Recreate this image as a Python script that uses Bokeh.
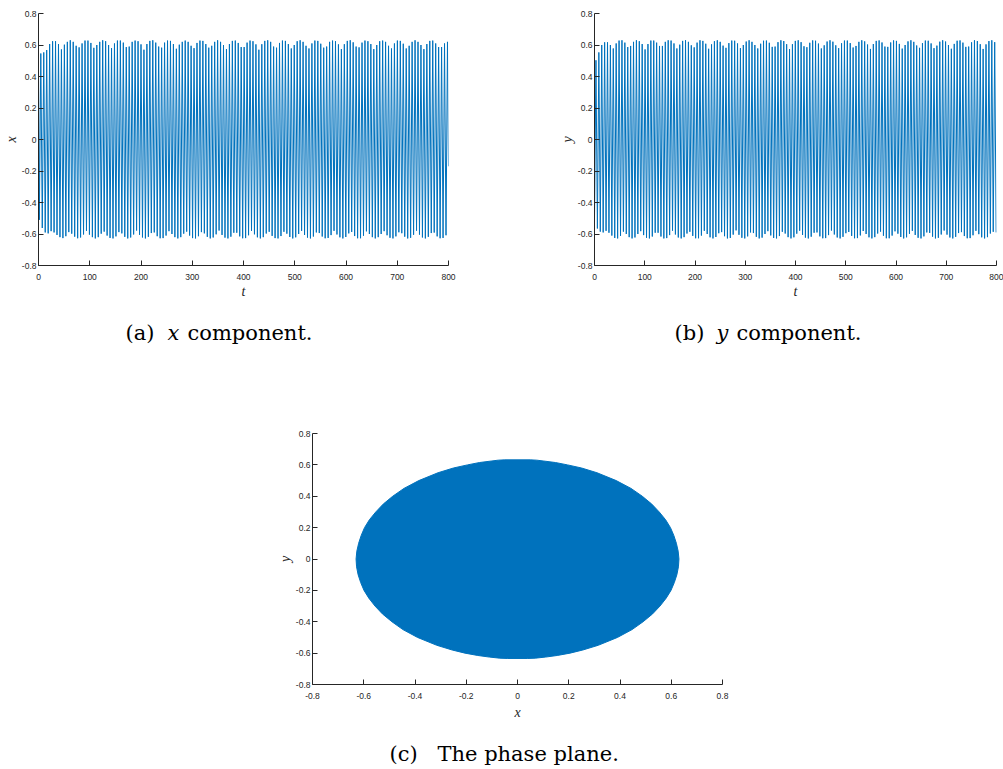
import numpy as np
from bokeh.plotting import figure
from bokeh.layouts import column, row
from bokeh.models import FixedTicker, CustomJSTickFormatter, Range1d, Spacer
from bokeh.core.properties import value
from bokeh.embed import file_html
from bokeh.resources import INLINE

# ---------------- data ----------------
t_ticks = [0, 100, 200, 300, 400, 500, 600, 700, 800]
v_ticks = [-0.8, -0.6, -0.4, -0.2, 0.0, 0.2, 0.4, 0.6, 0.8]

period = 5.75          # time between successive peaks
x_first_peak_t = 4.5
y_first_peak_t = 2.9
t_end = 800
x_start = 0.45
x_end = -0.17

# peak values of x(t), one per oscillation
x_top = [0.546, 0.553, 0.568, 0.606, 0.624, 0.624, 0.606, 0.572, 0.602, 0.62,
         0.63, 0.62, 0.595, 0.585, 0.61, 0.628, 0.628, 0.613, 0.582, 0.60,
         0.62, 0.63, 0.624, 0.60, 0.58, 0.61, 0.628, 0.628, 0.615, 0.587,
         0.59, 0.62, 0.628, 0.624, 0.604, 0.57, 0.606, 0.626, 0.63, 0.615,
         0.59, 0.583, 0.615, 0.628, 0.626, 0.606, 0.576, 0.602, 0.62, 0.628,
         0.62, 0.595, 0.58, 0.613, 0.628, 0.626, 0.606, 0.583, 0.595, 0.62,
         0.63, 0.62, 0.60, 0.574, 0.606, 0.626, 0.628, 0.613, 0.587, 0.587,
         0.615, 0.628, 0.624, 0.604, 0.57, 0.605, 0.626, 0.63, 0.62, 0.59,
         0.583, 0.613, 0.628, 0.626, 0.606, 0.578, 0.60, 0.624, 0.63, 0.62,
         0.595, 0.578, 0.61, 0.628, 0.626, 0.608, 0.583, 0.59, 0.62, 0.628,
         0.624, 0.604, 0.574, 0.605, 0.626, 0.63, 0.617, 0.59, 0.585, 0.615,
         0.628, 0.624, 0.606, 0.574, 0.60, 0.624, 0.628, 0.62, 0.595, 0.578,
         0.61, 0.628, 0.626, 0.608, 0.578, 0.595, 0.62, 0.63, 0.62, 0.60,
         0.574, 0.606, 0.626, 0.628, 0.61, 0.587, 0.587, 0.61, 0.62]
# trough values of x(t)
x_bottom = [-0.51, -0.562, -0.59, -0.596, -0.582, -0.59, -0.606, -0.62, -0.626, -0.614,
            -0.588, -0.598, -0.617, -0.627, -0.622, -0.603, -0.58, -0.604, -0.62, -0.628,
            -0.62, -0.598, -0.585, -0.61, -0.625, -0.628, -0.615, -0.588, -0.596, -0.618,
            -0.628, -0.622, -0.603, -0.578, -0.605, -0.622, -0.628, -0.618, -0.594, -0.59,
            -0.614, -0.627, -0.626, -0.61, -0.582, -0.6, -0.62, -0.628, -0.62, -0.598,
            -0.585, -0.61, -0.626, -0.628, -0.614, -0.588, -0.596, -0.618, -0.628, -0.622,
            -0.602, -0.578, -0.606, -0.623, -0.628, -0.617, -0.592, -0.592, -0.615, -0.627,
            -0.626, -0.608, -0.58, -0.602, -0.621, -0.628, -0.62, -0.597, -0.586, -0.612,
            -0.626, -0.628, -0.613, -0.586, -0.598, -0.619, -0.628, -0.621, -0.6, -0.58,
            -0.606, -0.623, -0.628, -0.616, -0.59, -0.594, -0.616, -0.627, -0.625, -0.607,
            -0.58, -0.603, -0.621, -0.628, -0.619, -0.596, -0.587, -0.613, -0.627, -0.627,
            -0.611, -0.583, -0.6, -0.62, -0.628, -0.62, -0.6, -0.582, -0.608, -0.624,
            -0.628, -0.615, -0.589, -0.595, -0.617, -0.628, -0.624, -0.605, -0.579, -0.604,
            -0.622, -0.628, -0.618, -0.594, -0.591, -0.615, -0.627, -0.625, -0.608]
# peak values of y(t)
y_top = [0.503, 0.553, 0.60, 0.617, 0.617, 0.60, 0.578, 0.61, 0.628, 0.63,
         0.615, 0.587, 0.594, 0.62, 0.63, 0.624, 0.606, 0.572, 0.606, 0.628,
         0.628, 0.615, 0.594, 0.594, 0.62, 0.63, 0.628, 0.61, 0.578, 0.602,
         0.626, 0.63, 0.62, 0.598, 0.585, 0.615, 0.63, 0.626, 0.608, 0.576,
         0.604, 0.624, 0.63, 0.62, 0.596, 0.582, 0.612, 0.628, 0.627, 0.61,
         0.58, 0.6, 0.622, 0.63, 0.62, 0.6, 0.578, 0.608, 0.627, 0.628,
         0.614, 0.588, 0.59, 0.618, 0.63, 0.625, 0.605, 0.574, 0.605, 0.626,
         0.63, 0.618, 0.592, 0.586, 0.614, 0.629, 0.627, 0.609, 0.578, 0.598,
         0.622, 0.63, 0.621, 0.598, 0.58, 0.611, 0.628, 0.628, 0.612, 0.584,
         0.594, 0.62, 0.63, 0.623, 0.603, 0.575, 0.606, 0.626, 0.629, 0.616,
         0.59, 0.588, 0.616, 0.629, 0.626, 0.607, 0.577, 0.6, 0.623, 0.63,
         0.62, 0.597, 0.582, 0.612, 0.628, 0.627, 0.61, 0.58, 0.596, 0.621,
         0.63, 0.622, 0.6, 0.576, 0.607, 0.627, 0.629, 0.615, 0.588, 0.59,
         0.617, 0.63, 0.625, 0.605, 0.575, 0.604, 0.625, 0.63, 0.618]
# trough values of y(t)
y_bottom = [-0.50, -0.565, -0.585, -0.59, -0.58, -0.592, -0.61, -0.625, -0.628, -0.612,
            -0.585, -0.6, -0.62, -0.628, -0.622, -0.6, -0.582, -0.607, -0.624, -0.628,
            -0.616, -0.592, -0.592, -0.616, -0.628, -0.626, -0.607, -0.579, -0.603, -0.622,
            -0.628, -0.62, -0.597, -0.586, -0.612, -0.627, -0.627, -0.61, -0.58, -0.6,
            -0.621, -0.628, -0.619, -0.595, -0.588, -0.614, -0.628, -0.625, -0.604, -0.577,
            -0.605, -0.624, -0.628, -0.615, -0.59, -0.594, -0.618, -0.628, -0.623, -0.6,
            -0.582, -0.609, -0.625, -0.628, -0.613, -0.586, -0.597, -0.62, -0.628, -0.621,
            -0.598, -0.579, -0.606, -0.623, -0.628, -0.617, -0.592, -0.59, -0.615, -0.627,
            -0.626, -0.607, -0.578, -0.603, -0.622, -0.628, -0.618, -0.595, -0.587, -0.612,
            -0.627, -0.626, -0.609, -0.581, -0.6, -0.621, -0.628, -0.62, -0.597, -0.585,
            -0.611, -0.627, -0.627, -0.61, -0.583, -0.598, -0.619, -0.628, -0.621, -0.599,
            -0.58, -0.606, -0.624, -0.628, -0.615, -0.59, -0.593, -0.617, -0.628, -0.624,
            -0.603, -0.578, -0.604, -0.622, -0.628, -0.618, -0.594, -0.588, -0.613, -0.627,
            -0.626, -0.608, -0.58, -0.601, -0.621, -0.628, -0.62, -0.597, -0.586, -0.59]

# outline of the filled phase-plane region: height y and half-width at that height
edge_y = [0.632, 0.63, 0.625, 0.615, 0.6, 0.58, 0.55, 0.5, 0.45, 0.4, 0.35, 0.3, 0.25,
          0.2, 0.15, 0.1, 0.05, 0.0, -0.05, -0.1, -0.15, -0.2, -0.25, -0.3, -0.35,
          -0.4, -0.45, -0.5, -0.55, -0.58, -0.6, -0.615, -0.625, -0.632, -0.634]
edge_half = [0.05, 0.075, 0.10, 0.148, 0.195, 0.25, 0.31, 0.385, 0.443, 0.487, 0.524,
             0.553, 0.578, 0.597, 0.61, 0.62, 0.627, 0.63, 0.628, 0.622, 0.612, 0.599,
             0.58, 0.556, 0.527, 0.49, 0.447, 0.39, 0.315, 0.255, 0.205, 0.155, 0.11,
             0.07, 0.04]

# ---------------- build the polylines ----------------
xt, xv = [0.0], [x_start]
for i, (hi, lo) in enumerate(zip(x_top, x_bottom)):
    tp = x_first_peak_t + i * period
    xt += [tp - period / 2, tp]
    xv += [lo, hi]
xt.append(t_end)
xv.append(x_end)

yt, yv = [], []
for i, lo in enumerate(y_bottom):
    tp = y_first_peak_t + i * period
    yt.append(tp - period / 2)
    yv.append(lo)
    if i < len(y_top):
        yt.append(tp)
        yv.append(y_top[i])

ex = [h for h in edge_half] + [-h for h in edge_half[::-1]]
ey = list(edge_y) + list(edge_y[::-1])

BLUE = "#0072BD"
AX = "#262626"
fmt = CustomJSTickFormatter(code="""
if (Math.abs(tick) < 1e-9) return '0';
if (Number.isInteger(tick)) return tick.toString();
return tick.toFixed(1);
""")


def style(p, xt_ticks, yt_ticks, xlabel, ylabel, xstand):
    p.grid.visible = False
    p.outline_line_color = None
    p.xaxis.ticker = FixedTicker(ticks=xt_ticks)
    p.yaxis.ticker = FixedTicker(ticks=yt_ticks)
    for ax in (p.xaxis[0], p.yaxis[0]):
        ax.formatter = fmt
        ax.axis_line_color = AX
        ax.axis_line_width = 1
        ax.major_tick_line_color = AX
        ax.major_tick_in = 5
        ax.major_tick_out = 0
        ax.minor_tick_line_color = None
        ax.major_label_text_font = "Liberation Sans"
        ax.major_label_text_font_size = "8.5px"
        ax.major_label_text_color = AX
        ax.axis_label_text_font = "Liberation Serif"
        ax.axis_label_text_font_style = "italic"
        ax.axis_label_text_font_size = "14px"
        ax.axis_label_text_color = AX
    p.xaxis.major_label_standoff = 8
    p.yaxis.major_label_standoff = 2
    p.xaxis.axis_label = xlabel
    p.yaxis.axis_label = ylabel
    p.xaxis.axis_label_standoff = xstand
    p.yaxis.axis_label_standoff = 0


def caption_fig(height):
    c = figure(width=1003, height=height, x_range=Range1d(0, 1003), y_range=Range1d(height, 0),
               min_border=0, x_axis_location=None, y_axis_location=None,
               output_backend="svg", toolbar_location=None)
    c.grid.visible = False
    c.outline_line_color = None
    return c


def cap_text(c, x, y, text, italic=False):
    c.text(x=[x], y=[y], text=[text], text_font=value("DejaVu Serif"),
           text_font_size=value("21px"),
           text_font_style=value("italic" if italic else "normal"),
           text_align=value("left"), text_baseline=value("middle"),
           text_color="black")


# ---- (a) ----
pa = figure(width=556, height=305, x_range=Range1d(0, 800), y_range=Range1d(-0.8, 0.8),
            min_border_left=38, min_border_right=108, min_border_top=13, min_border_bottom=40,
            output_backend="svg", toolbar_location=None)
pa.line(xt, xv, line_color=BLUE, line_width=1)
style(pa, t_ticks, v_ticks, "t", "x", 1)

# ---- (b) ----
pb = figure(width=447, height=305, x_range=Range1d(0, 800), y_range=Range1d(-0.8, 0.8),
            min_border_left=31, min_border_right=7, min_border_top=13, min_border_bottom=40,
            output_backend="svg", toolbar_location=None)
pb.line(yt, yv, line_color=BLUE, line_width=1)
style(pb, t_ticks, v_ticks, "t", "y", 1)

# ---- captions (a), (b) ----
c1 = caption_fig(55)
cap_text(c1, 125, 27, "(a)")
cap_text(c1, 167, 27, "x", italic=True)
cap_text(c1, 187, 27, "component.")
cap_text(c1, 674, 27, "(b)")
cap_text(c1, 716, 27, "y", italic=True)
cap_text(c1, 736, 27, "component.")

# ---- (c) ----
pc = figure(width=470, height=365, x_range=Range1d(-0.8, 0.8), y_range=Range1d(-0.8, 0.8),
            min_border_left=38, min_border_right=22, min_border_top=73, min_border_bottom=41,
            output_backend="svg", toolbar_location=None)
pc.patch(ex, ey, fill_color=BLUE, line_color=BLUE, line_width=1)
style(pc, v_ticks, v_ticks, "x", "y", 3)

c2 = caption_fig(44)
cap_text(c2, 389, 28, "(c)")
cap_text(c2, 437, 28, "The phase plane.")

layout = column(row(pa, pb), c1, row(Spacer(width=274, height=365), pc), c2)
open("out.html", "w").write(file_html(layout, INLINE))
